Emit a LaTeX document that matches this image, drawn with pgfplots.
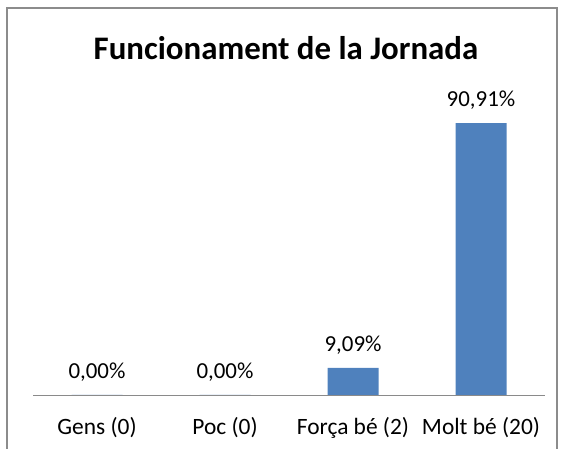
\documentclass[border=0pt]{standalone}
\usepackage{fontspec}
\setmainfont{Carlito}
\usepackage{pgfplots}
\pgfplotsset{compat=1.18}
\definecolor{barblue}{HTML}{4F81BD}
\definecolor{framegray}{HTML}{8C8C8C}
\definecolor{basegray}{HTML}{8A8A8A}
\begin{document}
\begin{tikzpicture}[x=1bp,y=1bp]
\path[use as bounding box] (0,0) rectangle (566,449);
\draw[color=framegray, line width=1.3bp] (7,-5) -- (7,441) -- (557,441) -- (557,-5);
\node[font=\bfseries\fontsize{33}{40}\selectfont, anchor=base] at (286,389) {Funcionament de la Jornada};
\begin{axis}[
  at={(33bp,54bp)}, anchor=south west,
  scale only axis, width=512bp, height=299bp,
  xmin=-0.5, xmax=3.5, ymin=0, ymax=100,
  axis x line=bottom, axis y line=none,
  x axis line style={-, color=basegray, line width=0.9bp},
  xtick=data, ytick=\empty,
  xticklabels={Gens (0), Poc (0), Força bé (2), Molt bé (20)},
  major tick length=0pt,
  xticklabel style={font=\fontsize{23.5}{28}\selectfont, yshift=-19bp},
  ybar, bar width=51bp,
  clip=false,
  nodes near coords,
  point meta=explicit symbolic,
  every node near coord/.append style={font=\fontsize{23}{28}\selectfont, text=black, yshift=10bp},
]
\addplot[fill=barblue, draw=none] coordinates {
  (0,0) [0,00\%]
  (1,0) [0,00\%]
  (2,9.09) [9,09\%]
  (3,90.91) [90,91\%]
};
\end{axis}
\end{tikzpicture}
\end{document}
